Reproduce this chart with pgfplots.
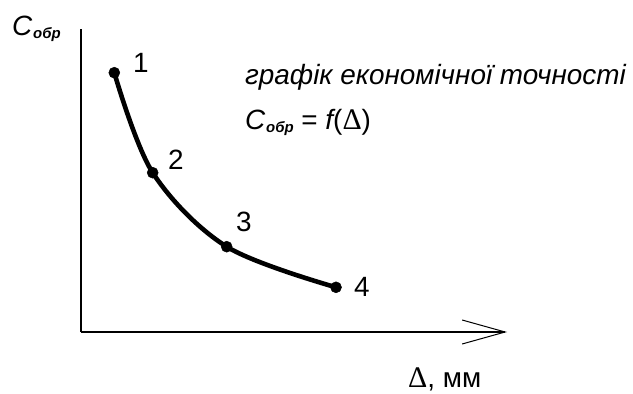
\documentclass[border=0pt]{standalone}
\usepackage{pgfplots}
\pgfplotsset{compat=1.18}
\usetikzlibrary{arrows.meta}
\usepackage{fontspec}
\setmainfont{Liberation Sans}
\newfontfamily\serifdelta{Liberation Serif}

% cost-vs-tolerance curve points (axis units = bp from the origin)
\pgfplotstableread{
x     y
33.3  259.3
71.7  159.3
145.7 85.3
255.0 44.7
}\costcurve

\newcommand{\lblsize}{\fontsize{28}{30}\selectfont}
\newcommand{\Cobr}{{\itshape C}\kern0.03em\raisebox{-0.1em}{\fontsize{15}{15}\selectfont\bfseries\itshape обр}}
\newcommand{\Del}{{\serifdelta\fontsize{30}{30}\selectfont Δ}}
\tikzset{lbl/.style={anchor=base west, inner sep=0pt, font=\lblsize}}

\begin{document}
\begin{tikzpicture}
\begin{axis}[
  at={(0,0)}, anchor=origin,
  scale only axis, width=426bp, height=303bp,
  xmin=0, xmax=426, ymin=0, ymax=303,
  axis x line=bottom, axis y line=left,
  x axis line style={line width=1.2bp, -{Straight Barb[length=43bp,width=24bp,line width=1bp]}},
  y axis line style={line width=1.2bp, -},
  xtick=\empty, ytick=\empty,
  clip=false,
]
\addplot[black, line width=4.6bp, smooth, tension=0.55,
  mark=*, mark size=5.5bp, mark options={fill=black, line width=0.5bp}]
  table[x=x,y=y]{\costcurve};

\node[lbl] at (axis cs:52,259) {1};
\node[lbl] at (axis cs:87,162) {2};
\node[lbl] at (axis cs:155,100) {3};
\node[lbl] at (axis cs:273,36) {4};

\node[lbl] at (axis cs:164,247) {\itshape графік економічної точності};
\node[lbl] at (axis cs:164,202) {\Cobr{} = {\itshape f}(\Del)};
\node[lbl] at (axis cs:-69,296) {\Cobr};
\node[lbl] at (axis cs:327,-55) {\Del, мм};
\end{axis}
\pgfresetboundingbox
\path[use as bounding box] (-81bp,-62bp) rectangle (552bp,332bp);
\end{tikzpicture}
\end{document}
